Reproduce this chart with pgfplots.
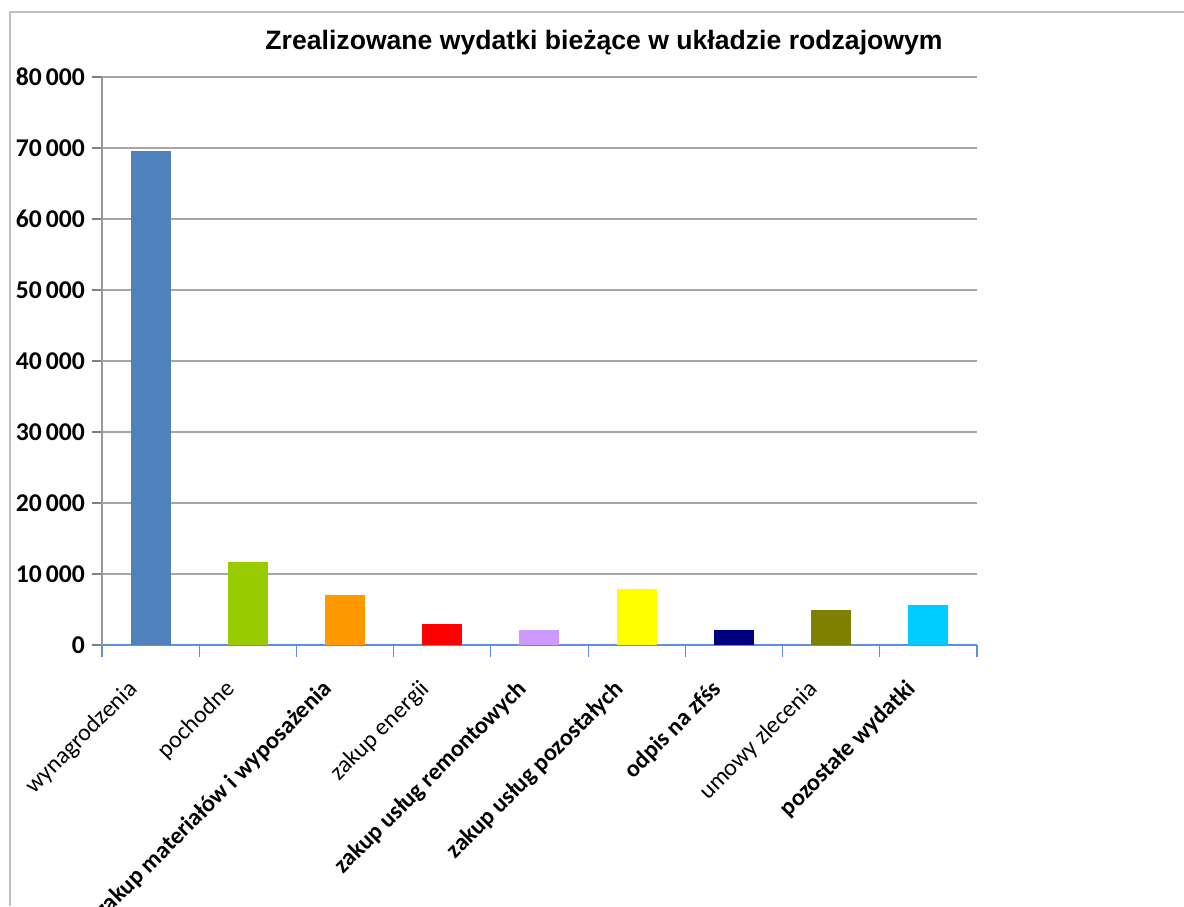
\documentclass[border=0pt]{standalone}
\usepackage{pgfplots}
\pgfplotsset{compat=1.18}
\usepackage{fontspec}
\setmainfont{Carlito}
\newfontfamily\titlefont{Liberation Sans}

\definecolor{c1}{HTML}{4F81BD}
\definecolor{c2}{HTML}{99CC00}
\definecolor{c3}{HTML}{FF9900}
\definecolor{c4}{HTML}{FF0000}
\definecolor{c5}{HTML}{CC99FF}
\definecolor{c6}{HTML}{FFFF00}
\definecolor{c7}{HTML}{000080}
\definecolor{c8}{HTML}{808000}
\definecolor{c9}{HTML}{00CCFF}
\definecolor{axblue}{HTML}{5B8FE6}

\begin{document}
\begin{tikzpicture}
\useasboundingbox (0,0) rectangle (592pt,453pt);
% chart frame
\draw[gray!50, line width=0.8pt] (5pt,0) -- (5pt,447pt) -- (600pt,447pt);

\node[font=\titlefont\bfseries\fontsize{13.3}{15}\selectfont] at (302pt,431.5pt)
  {Zrealizowane wydatki bieżące w układzie rodzajowym};

\begin{axis}[
    at={(51pt,130.5pt)}, anchor=south west,
    scale only axis,
    width=437.5pt, height=284pt,
    xmin=-0.5, xmax=8.5,
    ymin=0, ymax=80000,
    ytick={0,10000,...,80000},
    xtick={0,...,8},
    xticklabels={wynagrodzenia, pochodne, \textbf{zakup materiałów i wyposażenia}, zakup energii, \textbf{zakup usług remontowych}, \textbf{zakup usług pozostałych}, \textbf{odpis na zfśs}, umowy zlecenia, \textbf{pozostałe wydatki}},
    minor xtick={-0.5,0.5,...,8.5},
    major x tick style={draw=none},
    minor x tick style={draw=axblue, line width=0.6pt},
    tick align=outside,
    minor tick length=6pt,
    major tick length=5pt,
    y tick style={gray, line width=0.6pt},
    axis x line*=bottom,
    axis y line*=left,
    x axis line style={axblue, line width=0.8pt},
    y axis line style={gray!80, line width=0.6pt},
    ymajorgrids,
    grid style={gray!70, line width=0.6pt},
    xticklabel style={xshift=-12pt, yshift=-10pt, rotate=45, anchor=north east, font=\fontsize{12}{14}\selectfont, inner sep=1pt},
    yticklabel style={font=\bfseries\fontsize{12.8}{14}\selectfont},
    /pgf/number format/.cd, 1000 sep={\,}, assume math mode=true,
    /pgfplots/.cd,
    scaled y ticks=false,
    ybar, bar width=20pt, bar shift=0pt,
    clip=false
]
\addplot[fill=c1, draw=none] coordinates {(0,69600)};
\addplot[fill=c2, draw=none] coordinates {(1,11700)};
\addplot[fill=c3, draw=none] coordinates {(2,7100)};
\addplot[fill=c4, draw=none] coordinates {(3,3000)};
\addplot[fill=c5, draw=none] coordinates {(4,2100)};
\addplot[fill=c6, draw=none] coordinates {(5,7900)};
\addplot[fill=c7, draw=none] coordinates {(6,2100)};
\addplot[fill=c8, draw=none] coordinates {(7,5000)};
\addplot[fill=c9, draw=none] coordinates {(8,5600)};
\end{axis}
\end{tikzpicture}
\end{document}
